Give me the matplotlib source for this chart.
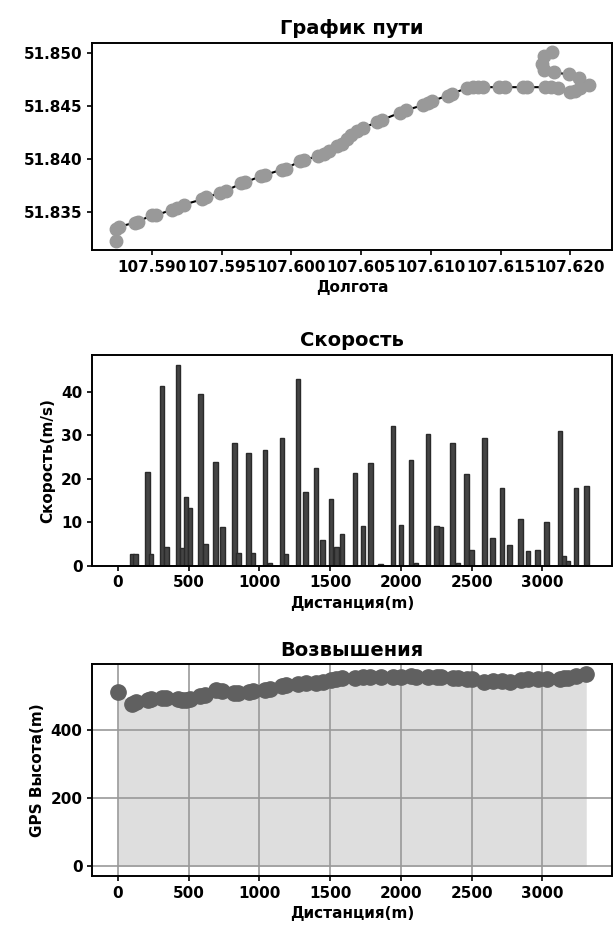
import matplotlib
matplotlib.use('Agg')
import matplotlib.pyplot as plt
from matplotlib.ticker import FormatStrFormatter

plt.rcParams['font.family'] = ['DejaVu Sans']
plt.rcParams['font.weight'] = 'bold'
plt.rcParams['axes.titleweight'] = 'bold'
plt.rcParams['axes.labelweight'] = 'bold'
plt.rcParams['font.size'] = 11
plt.rcParams['axes.linewidth'] = 1.4
plt.rcParams['xtick.major.width'] = 1.2
plt.rcParams['ytick.major.width'] = 1.2

# ── track (longitude / latitude) ──
lon = [107.5874, 107.5874, 107.5876, 107.5888, 107.5890, 107.5900, 107.5903,
       107.5914, 107.5918, 107.5923, 107.5936, 107.5939, 107.5949, 107.5953,
       107.5964, 107.5967, 107.5978, 107.5981, 107.5993, 107.5996, 107.6006,
       107.6009, 107.6019, 107.6023, 107.6027, 107.6033, 107.6036, 107.6040,
       107.6043, 107.6047, 107.6051, 107.6061, 107.6065, 107.6078, 107.6082,
       107.6094, 107.6098, 107.6101, 107.6112, 107.6115, 107.6126, 107.6130,
       107.6134, 107.6137, 107.6149, 107.6153, 107.6166, 107.6169, 107.6182,
       107.6186, 107.6191, 107.6200, 107.6203, 107.6207, 107.6213, 107.6206,
       107.6199, 107.6188, 107.6181, 107.6180, 107.6181, 107.6187]
lat = [51.8323, 51.8334, 51.8336, 51.8340, 51.8341, 51.8347, 51.8347,
       51.8352, 51.8354, 51.8357, 51.8362, 51.8364, 51.8368, 51.8370,
       51.8377, 51.8378, 51.8384, 51.8385, 51.8390, 51.8391, 51.8398,
       51.8399, 51.8403, 51.8405, 51.8408, 51.8412, 51.8414, 51.8419,
       51.8423, 51.8427, 51.8429, 51.8435, 51.8437, 51.8444, 51.8446,
       51.8451, 51.8453, 51.8455, 51.8460, 51.8462, 51.8467, 51.8468,
       51.8468, 51.8468, 51.8468, 51.8468, 51.8468, 51.8468, 51.8468,
       51.8468, 51.8467, 51.8463, 51.8464, 51.8467, 51.8470, 51.8477,
       51.8480, 51.8482, 51.8484, 51.8490, 51.8497, 51.8501]

# ── distance along track, speed, elevation ──
dist = [0, 100, 125, 209, 233, 310, 341, 425, 455, 481, 510, 582, 618, 690,
        738, 822, 851, 923, 954, 1038, 1075, 1159, 1188, 1272, 1327, 1399,
        1447, 1507, 1543, 1584, 1675, 1731, 1784, 1856, 1945, 2000, 2072,
        2108, 2192, 2252, 2284, 2365, 2404, 2464, 2500, 2589, 2649, 2714,
        2769, 2846, 2897, 2966, 3029, 3125, 3154, 3180, 3238, 3310]
speed = [0, 2.7, 2.7, 21.6, 2.7, 41.4, 4.2, 46.2, 4.0, 15.7, 13.3, 39.5, 4.9,
         23.9, 8.9, 28.1, 3.0, 25.9, 3.0, 26.5, 0.6, 29.3, 2.7, 43.0, 16.9,
         22.4, 6.0, 15.4, 4.2, 7.3, 21.4, 9.0, 23.5, 0.4, 32.2, 9.3, 24.2,
         0.6, 30.2, 9.0, 8.9, 28.1, 0.6, 21.0, 3.5, 29.3, 6.3, 17.9, 4.7,
         10.7, 3.4, 3.6, 10.0, 31.0, 2.2, 1.0, 17.9, 18.3]
elev = [512, 478, 482, 490, 492, 495, 495, 492, 490, 490, 492, 500, 505, 518,
        515, 510, 510, 512, 515, 518, 522, 530, 532, 535, 538, 540, 542, 548,
        552, 555, 555, 556, 558, 558, 556, 558, 560, 558, 558, 558, 557, 555,
        555, 552, 550, 542, 545, 544, 542, 548, 550, 552, 552, 552, 553, 555,
        560, 566]

dist_ticks = [0, 500, 1000, 1500, 2000, 2500, 3000]

fig = plt.figure(figsize=(6.14, 9.31), dpi=100)

# path
ax1 = fig.add_axes([0.150, 0.7315, 0.847, 0.2225])
ax1.plot(lon, lat, color='black', linewidth=1.5, marker='o', markersize=9,
         markerfacecolor='#999999', markeredgecolor='#999999')
ax1.set_title('График пути', fontsize=14)
ax1.set_xlabel('Долгота')
ax1.xaxis.set_major_formatter(FormatStrFormatter('%.3f'))
ax1.yaxis.set_major_formatter(FormatStrFormatter('%.3f'))

# speed
ax2 = fig.add_axes([0.150, 0.3925, 0.847, 0.2265])
ax2.bar(dist, speed, width=32, color='#444444', edgecolor='#2a2a2a', linewidth=1)
ax2.set_title('Скорость', fontsize=14)
ax2.set_xlabel('Дистанция(m)')
ax2.set_ylabel('Скорость(m/s)')
ax2.set_xticks(dist_ticks)

# elevation
ax3 = fig.add_axes([0.150, 0.0590, 0.847, 0.2275])
ax3.fill_between(dist, elev, 0, color='#dedede', linewidth=0)
ax3.plot(dist, elev, 'o', color='#606060', markersize=11)
ax3.grid(True, color='#999999', linewidth=1.2)
ax3.set_title('Возвышения', fontsize=14)
ax3.set_xlabel('Дистанция(m)')
ax3.set_ylabel('GPS Высота(m)')
ax3.set_xticks(dist_ticks)
ax3.set_xlim(ax2.get_xlim())

fig.savefig('out.png', dpi=100)
